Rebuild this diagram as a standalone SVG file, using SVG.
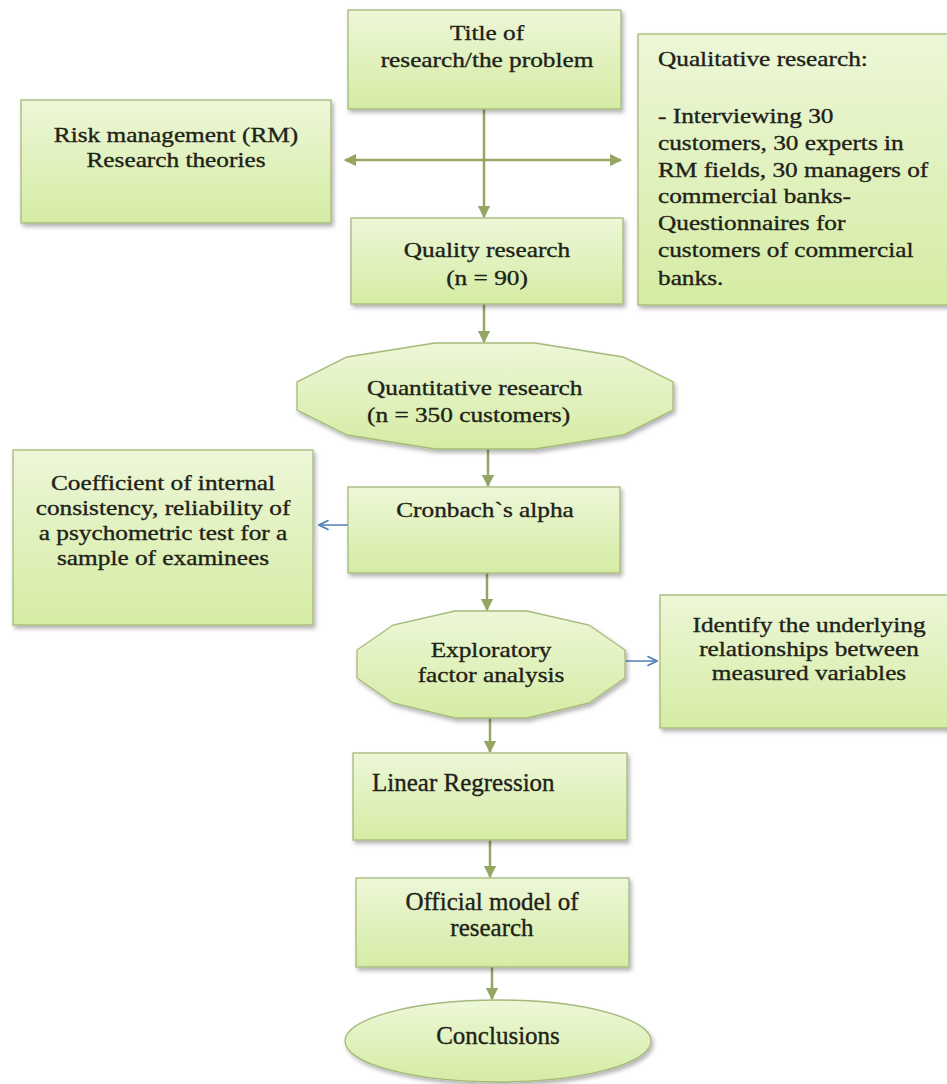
<svg xmlns="http://www.w3.org/2000/svg" width="947" height="1084" viewBox="0 0 947 1084">
<style>
.n{fill:url(#g);stroke:#a5b97a;stroke-width:1.3;filter:url(#sh)}
.t{font-family:"Liberation Serif","Times New Roman",serif;font-size:22px;fill:#1e2218;stroke:#1e2218;stroke-width:0.35}
.tb{font-family:"Liberation Serif","Times New Roman",serif;font-size:25px;fill:#1e2218;stroke:#1e2218;stroke-width:0.35}
.c{text-anchor:middle}
.a{stroke:#95a663;stroke-width:2.5;fill:none}
.b{stroke:#4f7fb8;stroke-width:1.5;fill:none}
</style>
<defs>
<linearGradient id="g" x1="0" y1="0" x2="0" y2="1">
<stop offset="0" stop-color="#edf7d8"/>
<stop offset="1" stop-color="#d5eca4"/>
</linearGradient>
<filter id="sh" x="-10%" y="-10%" width="125%" height="130%">
<feDropShadow dx="2" dy="3" stdDeviation="2" flood-color="#000" flood-opacity="0.3"/>
</filter>
<marker id="ah" viewBox="0 0 10 10" refX="9" refY="5" markerWidth="5" markerHeight="5" orient="auto-start-reverse" markerUnits="strokeWidth">
<path d="M0,0 L10,5 L0,10 z" fill="#95a663"/>
</marker>
<marker id="bh" viewBox="0 0 10 10" refX="9" refY="5" markerWidth="8" markerHeight="8" orient="auto" markerUnits="strokeWidth">
<path d="M1,1 L9,5 L1,9" fill="none" stroke="#4f7fb8" stroke-width="1.4"/>
</marker>
</defs>
<rect width="947" height="1084" fill="#fff"/>

<g id="connectors">
<line class="a" x1="484" y1="109" x2="484" y2="217" marker-end="url(#ah)"/>
<line class="a" x1="345" y1="160" x2="621" y2="160" marker-start="url(#ah)" marker-end="url(#ah)"/>
<line class="a" x1="484" y1="304" x2="484" y2="342" marker-end="url(#ah)"/>
<line class="a" x1="488" y1="449" x2="488" y2="486" marker-end="url(#ah)"/>
<line class="a" x1="487" y1="573" x2="487" y2="610" marker-end="url(#ah)"/>
<line class="a" x1="490" y1="718" x2="490" y2="752" marker-end="url(#ah)"/>
<line class="a" x1="490" y1="840" x2="490" y2="877" marker-end="url(#ah)"/>
<line class="a" x1="492" y1="967" x2="492" y2="999" marker-end="url(#ah)"/>
<line class="b" x1="349" y1="525" x2="319" y2="525" marker-end="url(#bh)"/>
<line class="b" x1="626" y1="661" x2="657" y2="661" marker-end="url(#bh)"/>
</g>

<g id="title">
<rect class="n" x="348" y="10" width="273" height="99"/>
<g transform="translate(487,0) scale(1.15,1)"><text class="t c" x="0" y="40">Title of</text><text class="t c" x="0" y="67">research/the problem</text></g>
</g>

<g id="risk">
<rect class="n" x="21" y="100" width="310" height="123"/>
<g transform="translate(176,0) scale(1.15,1)"><text class="t c" x="0" y="142">Risk management (RM)</text><text class="t c" x="0" y="167">Research theories</text></g>
</g>

<g id="qualitative">
<rect class="n" x="638" y="34" width="320" height="271"/>
<g transform="translate(658,0) scale(1.15,1)">
<text class="t" x="0" y="66">Qualitative research:</text>
<text class="t" x="0" y="123">- Interviewing 30</text>
<text class="t" x="0" y="150">customers, 30 experts in</text>
<text class="t" x="0" y="177">RM fields, 30 managers of</text>
<text class="t" x="0" y="203">commercial banks-</text>
<text class="t" x="0" y="230">Questionnaires for</text>
<text class="t" x="0" y="257">customers of commercial</text>
<text class="t" x="0" y="285">banks.</text>
</g>
</g>

<g id="quality">
<rect class="n" x="351" y="218" width="272" height="86"/>
<g transform="translate(487,0) scale(1.15,1)"><text class="t c" x="0" y="257">Quality research</text><text class="t c" x="0" y="285">(n = 90)</text></g>
</g>

<g id="quantitative">
<polygon class="n" points="435,343 535,343 623,357 673,382 673,410 623,435 535,449 435,449 347,435 297,410 297,382 347,357"/>
<g transform="translate(367,0) scale(1.15,1)"><text class="t" x="0" y="395">Quantitative research</text><text class="t" x="0" y="422">(n = 350 customers)</text></g>
</g>

<g id="coefficient">
<rect class="n" x="13" y="450" width="300" height="175"/>
<g transform="translate(163,0) scale(1.15,1)">
<text class="t c" x="0" y="490">Coefficient of internal</text>
<text class="t c" x="0" y="515">consistency, reliability of</text>
<text class="t c" x="0" y="540">a psychometric test for a</text>
<text class="t c" x="0" y="565">sample of examinees</text>
</g>
</g>

<g id="cronbach">
<rect class="n" x="348" y="487" width="272" height="86"/>
<g transform="translate(485,0) scale(1.15,1)"><text class="t c" x="0" y="517">Cronbach`s alpha</text></g>
</g>

<g id="exploratory">
<polygon class="n" points="455,611 527,611 589,625 625,650 625,678 589,703 527,718 455,718 393,703 357,678 357,650 393,625"/>
<g transform="translate(491,0) scale(1.15,1)"><text class="t c" x="0" y="657">Exploratory</text><text class="t c" x="0" y="682">factor analysis</text></g>
</g>

<g id="identify">
<rect class="n" x="660" y="595" width="300" height="133"/>
<g transform="translate(809,0) scale(1.15,1)">
<text class="t c" x="0" y="632">Identify the underlying</text>
<text class="t c" x="0" y="656">relationships between</text>
<text class="t c" x="0" y="680">measured variables</text>
</g>
</g>

<g id="linear">
<rect class="n" x="353" y="753" width="274" height="87"/>
<text class="tb" x="372" y="791">Linear Regression</text>
</g>

<g id="official">
<rect class="n" x="356" y="878" width="273" height="89"/>
<text class="tb c" x="492" y="910">Official model of</text>
<text class="tb c" x="492" y="936">research</text>
</g>

<g id="conclusions">
<ellipse class="n" cx="498" cy="1041" rx="153" ry="41"/>
<text class="tb c" x="498" y="1044">Conclusions</text>
</g>
</svg>
